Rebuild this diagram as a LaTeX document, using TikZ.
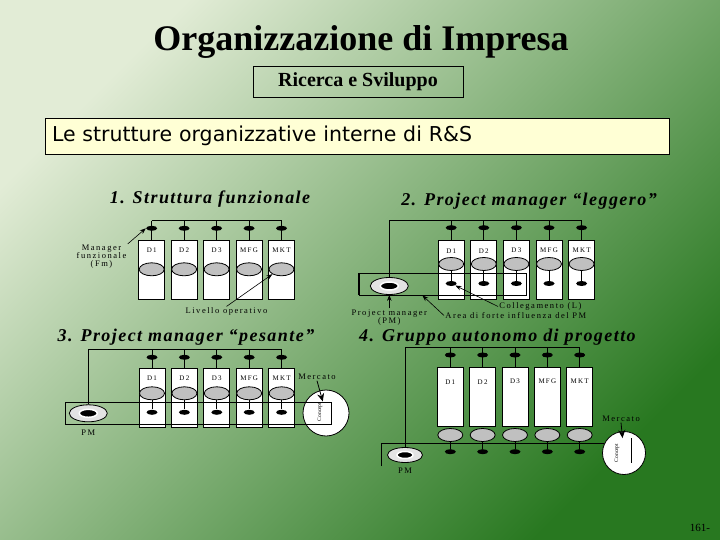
\documentclass[tikz,border=0pt]{standalone}
\usepackage{fontspec}
\setmainfont{Liberation Serif}
\newfontfamily\tahoma{DejaVu Sans}
\newfontfamily\lblfont[LetterSpace=18]{Liberation Serif}
\newfontfamily\panelfont[LetterSpace=8]{Liberation Serif}
\usetikzlibrary{positioning,arrows.meta,calc,shapes.geometric}
\definecolor{slidelight}{HTML}{E2ECD6}
\definecolor{slidemid}{HTML}{9CBD7C}
\definecolor{slidedark}{HTML}{287820}
\definecolor{notefill}{HTML}{FFFFD5}
\definecolor{opgray}{HTML}{C0C0C0}
\tikzset{
    dept/.style={rectangle,draw,fill=white,line width=0.9pt,minimum width=26pt,minimum height=59pt,inner sep=0pt},
    link/.style={ellipse,fill=black,minimum width=11pt,minimum height=5pt,inner sep=0pt},
    oper/.style={ellipse,draw,fill=opgray,minimum width=25pt,minimum height=13pt,inner sep=0pt},
    pmring/.style={ellipse,draw,fill=gray!22,minimum width=38pt,minimum height=17pt,inner sep=0pt},
    pmcore/.style={ellipse,fill=black,draw=white,line width=1.5pt,minimum width=18pt,minimum height=8pt,inner sep=0pt},
    market/.style={circle,draw,fill=white,minimum size=46pt,inner sep=0pt},
    zone/.style={rectangle,draw,inner sep=0pt},
    dname/.style={font=\lblfont\fontsize{7}{7}\selectfont,inner sep=0pt},
    inner/.style={font=\fontsize{5.5}{5.5}\selectfont,inner sep=0pt,rotate=90},
    lbl/.style={font=\lblfont\fontsize{8.5}{8}\selectfont,inner sep=1pt,align=center},
    panel/.style={font=\panelfont\fontsize{18}{18}\selectfont\bfseries\itshape,inner sep=0pt},
    pointer/.style={-{Stealth[length=6pt,width=4.5pt]},line width=0.6pt},
    bigpointer/.style={-{Stealth[length=8pt,width=7pt]},line width=0.8pt},
}
\begin{document}
\begin{tikzpicture}[x=1pt,y=-1pt,line width=0.8pt]
    \useasboundingbox (0,0) rectangle (720,540);
    \shade[top color=slidelight,middle color=slidemid,bottom color=slidedark,shading angle=45] (0,0) rectangle (720,540);
    \node[font=\fontsize{36}{36}\selectfont\bfseries,inner sep=0pt] (title) at (361,42) {Organizzazione di Impresa};
    \node[draw,minimum width=210pt,minimum height=31pt,font=\fontsize{20}{20}\selectfont\bfseries] (rs) at (358,81.5) {Ricerca e Sviluppo};
    \node[draw,fill=notefill,text width=610pt,minimum height=36pt,inner xsep=7pt,align=left,font=\tahoma\fontsize{20.5}{20.5}\selectfont] (topic) at (357,136) {Le strutture organizzative interne di R\&S};

    \node[panel] (p1) at (210,199) {1. Struttura funzionale};
    \foreach \t [count=\i] in {D1,D2,D3,MFG,MKT}{
        \pgfmathsetmacro\x{151.7+32.45*(\i-1)}
        \coordinate (ta\i) at (\x,220.7);
        \node[dept] (a\i) at (\x,270) {};
        \draw (ta\i) -- (a\i.north);
        \node[link] (fa\i) at (\x,228.3) {};
        \node[dname] (da\i) at (\x,250) {\t};
        \node[oper] (ga\i) at (\x,269.3) {};
    }
    \draw (ta1) -- (ta5);
    \node[lbl] (fm) at (101.5,257) {Manager\\funzionale\\(Fm)};
    \node[lbl] (liv) at (226.5,311.7) {Livello operativo};
    \draw[pointer] (fm.north east) -- (fa1.west);
    \draw[pointer] (liv.north) -- (ga5.south west);

    \node[panel] (p2) at (529,200.7) {2. Project manager “leggero”};
    \node[pmring] (pm2) at (389.3,286) {};
    \node[pmcore] (pm2c) at (pm2) {};
    \foreach \t [count=\i] in {D1,D2,D3,MFG,MKT}{
        \pgfmathsetmacro\x{451.2+32.6*(\i-1)}
        \coordinate (tb\i) at (\x,220.7);
        \node[dept] (b\i) at (\x,270) {};
        \draw (tb\i) -- (b\i.north);
        \node[link] (fb\i) at (\x,227.7) {};
        \node[dname] (db\i) at (\x,250.7) {\t};
        \node[oper] (gb\i) at (\x,264) {};
        \node[link] (lb\i) at (\x,283.5) {};
        \draw (gb\i.south) -- (lb\i);
    }
    \draw (pm2.north) |- (tb5);
    \node[zone,minimum width=167pt,minimum height=21.7pt] (zb) at (442.6,284.2) {};
    \draw[line width=1.6pt] (zb.north west) -- (zb.south west);
    \node[lbl] (pmlbl) at (389.3,317.5) {Project manager\\(PM)};
    \node[lbl,anchor=west] (coll) at (498,306.5) {Collegamento (L)};
    \node[lbl,anchor=west] (area) at (444,315.5) {Area di forte influenza del PM};
    \draw[pointer] (pmlbl.north) -- (pm2.south);
    \draw[pointer] (coll.west) -- (lb1.south east);
    \draw[pointer] (area.west) -- ($(zb.south west)!0.38!(zb.south east)$);

    \node[panel] (p3) at (186,336.7) {3. Project manager “pesante”};
    \node[pmring] (pm3) at (88.3,413.3) {};
    \node[pmcore] (pm3c) at (pm3) {};
    \node[lbl] (pm3l) at (88.3,432.3) {PM};
    \foreach \t [count=\i] in {D1,D2,D3,MFG,MKT}{
        \pgfmathsetmacro\x{152+32.4*(\i-1)}
        \coordinate (tc\i) at (\x,349);
        \node[dept] (c\i) at (\x,398.3) {};
        \draw (tc\i) -- (c\i.north);
        \node[link] (fc\i) at (\x,357.3) {};
        \node[dname] (dc\i) at (\x,378.3) {\t};
        \node[oper] (gc\i) at (\x,393.3) {};
        \node[link] (lc\i) at (\x,412.3) {};
        \draw (gc\i.south) -- (lc\i);
    }
    \draw (pm3.north) |- (tc5);
    \node[market] (mkt3) at (326,413) {};
    \node[inner] (con3) at (320,412) {Concept};
    \node[zone,minimum width=266pt,minimum height=21.3pt] (zc) at (198,413.35) {};
    \node[lbl] (merc3) at (317,376.5) {Mercato};
    \draw[bigpointer,shorten >=12pt] (merc3.south) -- (mkt3.center);

    \node[panel] (p4) at (497.5,336.7) {4. Gruppo autonomo di progetto};
    \node[pmring,minimum width=35pt,minimum height=15pt] (pm4) at (405,455) {};
    \node[pmcore,minimum width=16pt,minimum height=7pt] (pm4c) at (pm4) {};
    \node[lbl] (pm4l) at (405,470.7) {PM};
    \foreach \t [count=\i] in {D1,D2,D3,MFG,MKT}{
        \pgfmathsetmacro\x{450.3+32.35*(\i-1)}
        \coordinate (td\i) at (\x,347.7);
        \node[dept] (d\i) at (\x,397.3) {};
        \draw (td\i) -- (d\i.north);
        \node[link] (fd\i) at (\x,355) {};
        \node[dname] (dd\i) at (\x,381.7) {\t};
        \node[oper] (gd\i) at (\x,435) {};
        \node[link] (ld\i) at (\x,451.7) {};
        \draw (gd\i.south) -- (ld\i);
    }
    \draw (pm4.north) |- (td5);
    \node[market,minimum size=43pt] (mkt4) at (624,453) {};
    \coordinate (edge4) at (381,466);
    \draw (edge4) |- (mkt4.153);
    \draw (631.7,438) -- (631.7,463);
    \node[inner] (con4) at (617,453) {Concept};
    \node[lbl] (merc4) at (621,418.3) {Mercato};
    \draw[bigpointer,shorten >=15pt] (merc4.south) -- (mkt4.center);

    \node[font=\fontsize{11}{11}\selectfont,inner sep=0pt] (pg) at (700,528) {161-};
\end{tikzpicture}
\end{document}
